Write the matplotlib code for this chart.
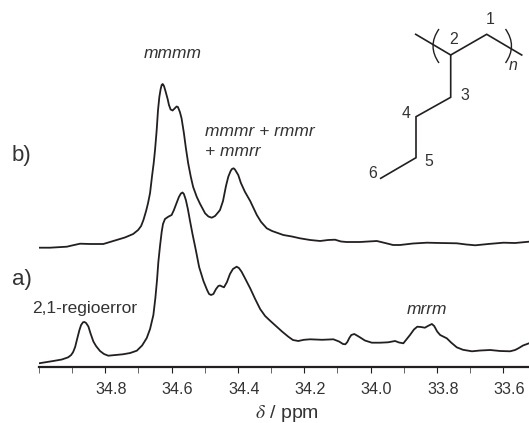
# -*- coding: utf-8 -*-
import matplotlib
matplotlib.use("Agg")
import matplotlib.pyplot as plt
from matplotlib.path import Path
from matplotlib.patches import PathPatch
from matplotlib.transforms import ScaledTranslation

plt.rcParams['font.family'] = ['Liberation Sans', 'DejaVu Sans']
plt.rcParams['mathtext.fontset'] = 'stix'

INK = '#231f20'

# spectrum a), chemical shift in ppm and height above baseline
ppm_a = [35.000, 34.957, 34.931, 34.912, 34.903, 34.897, 34.891, 34.885, 34.878, 34.873,
         34.867, 34.863, 34.858, 34.851, 34.845, 34.836, 34.828, 34.816, 34.804, 34.791,
         34.747, 34.725, 34.705, 34.689, 34.675, 34.665, 34.655, 34.649, 34.644, 34.640,
         34.635, 34.630, 34.626, 34.620, 34.610, 34.600, 34.593, 34.585, 34.578, 34.572,
         34.567, 34.563, 34.557, 34.551, 34.545, 34.537, 34.527, 34.517, 34.504, 34.493,
         34.487, 34.481, 34.474, 34.466, 34.459, 34.454, 34.448, 34.442, 34.433, 34.424,
         34.415, 34.404, 34.397, 34.389, 34.379, 34.363, 34.348, 34.333, 34.318, 34.303,
         34.283, 34.267, 34.248, 34.234, 34.218, 34.201, 34.182, 34.146, 34.112, 34.095,
         34.083, 34.076, 34.070, 34.064, 34.058, 34.049, 34.041, 34.032, 34.017, 33.996,
         33.971, 33.947, 33.926, 33.914, 33.901, 33.893, 33.881, 33.869, 33.859, 33.848,
         33.836, 33.827, 33.815, 33.808, 33.799, 33.790, 33.770, 33.757, 33.740, 33.721,
         33.694, 33.669, 33.639, 33.609, 33.579, 33.564, 33.554, 33.540, 33.522]
height_a = [3.7, 6, 7.5, 9.7, 12, 15, 20, 28, 37, 42,
            44.8, 45, 44, 40.5, 34, 25.5, 21, 16, 13, 11.3,
            12.7, 14, 16.3, 21.5, 29, 38, 52, 69, 87, 105,
            121, 135, 143, 148, 150.3, 152, 157, 164, 170, 173.5,
            174.5, 173, 167, 158, 147, 133, 117, 100, 86, 77,
            73, 72, 73, 78, 81, 81.5, 80.5, 79.7, 85, 93,
            98, 100.3, 99, 95.3, 89, 78.7, 68, 58, 51, 46.3,
            40.3, 35.5, 30.3, 27, 26, 27.2, 27.7, 27.2, 27.7, 25.5,
            23, 22.7, 25, 29, 32, 33, 31.5, 29.7, 26.5, 24.3,
            24.3, 24.7, 26, 24.5, 23.7, 27, 32, 37.5, 40.3, 40,
            39.3, 41, 43, 41, 35.5, 32, 28.7, 24.5, 19.7, 17.2,
            15.7, 16.5, 17, 16, 15.7, 17, 18.7, 21.5, 23.7]

# spectrum b)
ppm_b = [35.000, 34.967, 34.916, 34.894, 34.876, 34.846, 34.806, 34.786, 34.766, 34.741,
         34.716, 34.701, 34.692, 34.685, 34.677, 34.671, 34.665, 34.659, 34.654, 34.650,
         34.645, 34.641, 34.637, 34.633, 34.630, 34.627, 34.623, 34.618, 34.612, 34.608,
         34.603, 34.597, 34.591, 34.585, 34.581, 34.575, 34.570, 34.563, 34.557, 34.550,
         34.542, 34.535, 34.524, 34.514, 34.499, 34.489, 34.479, 34.469, 34.460, 34.454,
         34.445, 34.436, 34.429, 34.422, 34.418, 34.413, 34.409, 34.399, 34.391, 34.379,
         34.363, 34.343, 34.330, 34.313, 34.297, 34.263, 34.237, 34.213, 34.182, 34.152,
         34.128, 34.107, 34.089, 34.072, 34.032, 33.981, 33.956, 33.932, 33.911, 33.872,
         33.830, 33.790, 33.740, 33.711, 33.684, 33.645, 33.599, 33.564, 33.522]
height_b = [119.3, 119.3, 120.3, 122, 123.3, 123, 123, 125, 127, 129.5,
            133, 137, 141, 147, 156, 164, 174, 191, 204, 217,
            237, 257, 270, 278, 282, 283, 281, 275.3, 268, 262,
            257.5, 256.5, 258.5, 260.5, 260, 255, 248.7, 234, 219, 203.7,
            190, 180, 170, 163, 153.7, 150.5, 149.3, 151, 154.5, 157,
            166, 181, 190.3, 196, 198, 198.7, 197.5, 192, 184, 175.3,
            166, 152, 145, 138.7, 136, 132, 130.5, 128.7, 127, 126,
            127, 127.3, 125.5, 125, 125, 126, 124, 122, 122, 123.5,
            124.3, 124, 123.7, 122.5, 121.7, 123, 124.3, 124, 125.3]

major_ticks = [34.8, 34.6, 34.4, 34.2, 34.0, 33.8, 33.6]
minor_ticks = [35.0, 34.9, 34.7, 34.5, 34.3, 34.1, 33.9, 33.7]
tick_labels = ['34.8', '34.6', '34.4', '34.2', '34.0', '33.8', '33.6']

W, H = 529, 423
fig = plt.figure(figsize=(W / 100, H / 100), dpi=100)

ax = fig.add_axes([39 / W, (H - 367) / H, 1 - 39 / W, 367 / H])
ax.plot(ppm_a, height_a, color=INK, lw=1.3, solid_joinstyle='round')
ax.plot(ppm_b, height_b, color=INK, lw=1.3, solid_joinstyle='round')
ax.set_xlim(35.0, 33.522)
ax.set_ylim(0, 367)
ax.patch.set_visible(False)

for side in ['top', 'left', 'right']:
    ax.spines[side].set_visible(False)
ax.spines['bottom'].set_linewidth(1.6)
ax.spines['bottom'].set_color(INK)
ax.set_yticks([])
ax.set_xticks(major_ticks)
ax.set_xticklabels(tick_labels)
ax.set_xticks(minor_ticks, minor=True)
ax.tick_params(axis='x', which='major', length=4.6, width=0.8, color=INK,
               labelsize=11.6, labelcolor='#333333', pad=6)
ax.tick_params(axis='x', which='minor', length=4.6, width=0.7, color='#666666')

# the printed labels sit a little to the right of their ticks
shift = ScaledTranslation(6 / 100, 0, fig.dpi_scale_trans)
for txt in ax.get_xticklabels():
    txt.set_transform(txt.get_transform() + shift)

# overlay in picture pixels for the labels and the structure drawing
ov = fig.add_axes([0, 0, 1, 1])
ov.set_xlim(0, W)
ov.set_ylim(H, 0)
ov.axis('off')


def label(x, y, s, size=12.5, style='normal', ha='left'):
    ov.text(x, y, s, fontsize=size, style=style, ha=ha, va='center', color='#333333')


label(144, 54, 'mmmm', style='italic')
label(205, 132, 'mmmr + rmmr', style='italic')
label(205, 152, '+ mmrr', style='italic')
label(32, 309, '2,1-regioerror')
label(407, 309, 'mrrm', style='italic')
label(12, 155, 'b)', size=16)
label(12, 280, 'a)', size=16)
label(287, 413, r'$\delta$ / ppm', size=14, ha='center')

# hexyl side chain repeat unit
backbone_x = [415.7, 450.7, 486.7, 521.7]
backbone_y = [34.3, 55, 34.3, 55]
side_x = [450.7, 450.7, 416, 416, 380.7]
side_y = [55, 97.3, 116.7, 157.7, 178.3]
ov.plot(backbone_x, backbone_y, color=INK, lw=1.2, solid_joinstyle='miter')
ov.plot(side_x, side_y, color=INK, lw=1.2, solid_joinstyle='miter')

for x0, xc in [(439, 427), (505.5, 517.5)]:
    verts = [(x0, 29), (xc, 46), (x0, 63)]
    path = Path(verts, [Path.MOVETO, Path.CURVE3, Path.CURVE3])
    ov.add_patch(PathPatch(path, fc='none', ec=INK, lw=1.0))

atoms = [('1', 490, 20), ('2', 454, 40), ('3', 464.5, 96), ('4', 406, 113),
         ('5', 428.5, 161), ('6', 372.5, 173)]
for s, x, y in atoms:
    label(x, y, s, size=11.4, ha='center')
label(513.5, 65, 'n', size=11.4, style='italic', ha='center')

fig.savefig('out.png', dpi=100)
